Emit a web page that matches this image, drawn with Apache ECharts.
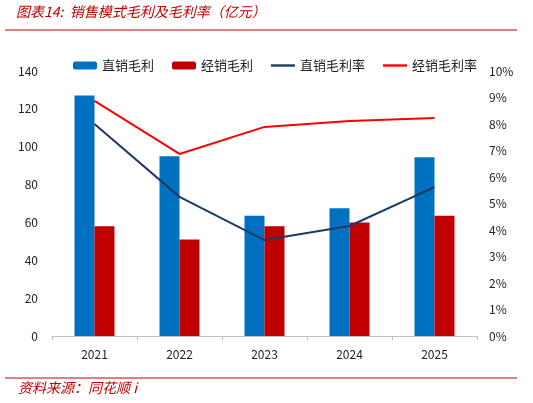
<!DOCTYPE html>
<html><head><meta charset="utf-8">
<script src="https://cdn.jsdelivr.net/npm/echarts@6/dist/echarts.min.js"></script>
<style>body{margin:0}#c{width:533px;height:403px}</style></head>
<body><div id="c"></div>
<script>
const categories=['2021','2022','2023','2024','2025'];
const directProfit=[127,95,63.5,67.5,94.5];
const distProfit=[58,51,58,60,63.5];
const directRate=[8.0,5.25,3.62,4.15,5.62];
const distRate=[8.87,6.87,7.89,8.11,8.23];
const leftTicks=[0,20,40,60,80,100,120,140];
const c=echarts.init(document.getElementById('c'));
const f='"Noto Sans CJK SC", sans-serif';
c.setOption({
 textStyle:{fontFamily:f},
 graphic:[
  {type:'text',left:16,top:5,style:{text:'图表14:  销售模式毛利及毛利率（亿元）',fill:'#c00000',font:'italic 14px '+f}},
  {type:'line',shape:{x1:5,y1:30,x2:517,y2:30},style:{stroke:'#c00000',lineWidth:1.2}},
  {type:'line',shape:{x1:5,y1:378,x2:517,y2:378},style:{stroke:'#c00000',lineWidth:1}},
  {type:'text',left:18,top:381,style:{text:'资料来源：同花顺 i',fill:'#c00000',font:'italic 14px '+f}}
 ],
 legend:{top:54,left:68,itemGap:18,itemWidth:24,itemHeight:8,textStyle:{fontSize:13,color:'#222'},
  data:[{name:'直销毛利'},{name:'经销毛利'},{name:'直销毛利率',icon:'path://M0,0H10V1H0Z'},{name:'经销毛利率',icon:'path://M0,0H10V1H0Z'}]},
 grid:{left:52,right:56,top:71,bottom:67},
 xAxis:{type:'category',data:categories,axisTick:{show:true,length:4,lineStyle:{color:'#bfbfbf'}},axisLine:{lineStyle:{color:'#bfbfbf'}},axisLabel:{color:'#222',fontSize:12,margin:12}},
 yAxis:[
  {type:'value',min:0,max:140,interval:20,splitLine:{show:false},axisLabel:{color:'#222',fontSize:12,margin:14}},
  {type:'value',min:0,max:10,interval:1,splitLine:{show:false},axisLabel:{color:'#222',fontSize:12,margin:12,formatter:'{value}%'}}
 ],
 series:[
  {name:'直销毛利',type:'bar',data:directProfit,barWidth:20,barGap:'0%',itemStyle:{color:'#0070c0'}},
  {name:'经销毛利',type:'bar',data:distProfit,barWidth:20,itemStyle:{color:'#c00000'}},
  {name:'直销毛利率',type:'line',yAxisIndex:1,data:directRate,symbol:'none',lineStyle:{color:'#1f3864',width:2},itemStyle:{color:'#1f3864'}},
  {name:'经销毛利率',type:'line',yAxisIndex:1,data:distRate,symbol:'none',lineStyle:{color:'#ff0000',width:2},itemStyle:{color:'#ff0000'}}
 ]
});
</script></body></html>
